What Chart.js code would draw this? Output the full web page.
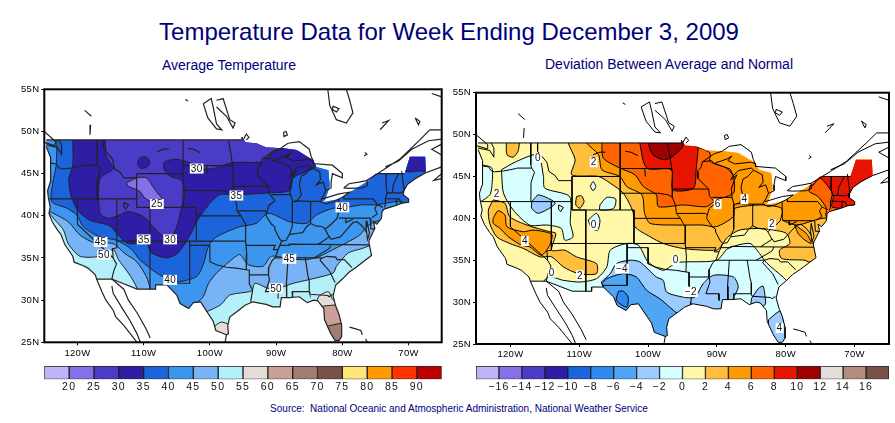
<!DOCTYPE html>
<html>
<head>
<meta charset="utf-8">
<title>Temperature Data</title>
<script src="https://cdn.jsdelivr.net/npm/chart.js@4"></script>
<style>
  body { margin: 0; background: #fff; font-family: "Liberation Sans", Arial, sans-serif; }
  #page { position: relative; width: 895px; height: 423px; overflow: hidden; }
  canvas { position: absolute; }
  .txt { position: absolute; color: #00007b; white-space: nowrap; transform: translateX(-50%); }
  #mapLeft, #barLeft { filter: blur(0.45px); }
</style>
</head>
<body>
<div id="page">
  <div class="txt" style="left:449px;top:18px;font-size:24px">Temperature Data for Week Ending December 3, 2009</div>
  <div class="txt" style="left:229px;top:57px;font-size:14px">Average Temperature</div>
  <div class="txt" style="left:669px;top:56px;font-size:14px">Deviation Between Average and Normal</div>
  <div class="txt" style="left:459px;top:403px;font-size:10px">Source:&nbsp; National Oceanic and Atmospheric Administration, National Weather Service</div>
  <canvas id="mapLeft" width="450" height="285" style="left:0;top:80px"></canvas>
  <canvas id="mapRight" width="445" height="285" style="left:450px;top:80px"></canvas>
  <canvas id="barLeft" width="450" height="36" style="left:0;top:360px"></canvas>
  <canvas id="barRight" width="445" height="36" style="left:450px;top:360px"></canvas>
</div>
<script>
// axis ticks
const lonTicks = [-120, -110, -100, -90, -80, -70];
const latTicks = [25, 30, 35, 40, 45, 50, 55];

// colour bars
const tempBarLabels = [20, 25, 30, 35, 40, 45, 50, 55, 60, 65, 70, 75, 80, 85, 90];
const tempBarColors = ['#BDB4FA', '#8570E8', '#4B3CC8', '#2D1EA5', '#1C64DC', '#3C96F0', '#78B4F5', '#B4F0FA',
  '#E6DCD7', '#C8A096', '#A07D70', '#785046', '#FFE678', '#FF9B00', '#FF3200', '#C00000'];
const devBarLabels = ['\u221216', '\u221214', '\u221212', '\u221210', '\u22128', '\u22126', '\u22124', '\u22122', '0', '2', '4', '6', '8', '10', '12', '14', '16'];
const devBarColors = ['#BDB4FA', '#8570E8', '#4B3CC8', '#2D1EA5', '#1C64DC', '#2E8AF0', '#50A5F5', '#9CCBFF', '#D8FFFF',
  '#FFF8A8', '#FFBE3C', '#FF9B00', '#FF6400', '#E61400', '#A00000', '#E6DCD7', '#B48C7D', '#785046'];

// lower 48 outline, [lon, lat]
const usMaskNorth = [[-124.7,49],[-95.15,49],[-95.15,49.35],[-94.6,48.7],[-93,48.6],[-91.5,48.1],[-88.9,48],[-86.9,47.8],[-84.4,46.6],[-83.9,45.8],[-82.1,45.4],[-81.9,43.5],[-82.6,41.9],[-83,41.6],[-80.4,42],[-78.4,43],[-76,44.2],[-75,45],[-70.6,45],[-69.8,47],[-67.5,47],[-67.4,45.4]];
const usCoastSouth = [[-67.4,45.1],[-69,44.4],[-70.2,43.7],[-70.7,43],[-70.8,42.5],[-70,42],[-70,41.6],[-71,41.5],[-72,41.2],[-73.7,40.8],[-74,40.5],[-74.1,39.7],[-74.8,39],[-75.3,39.3],[-75.1,38.5],[-75.9,37.2],[-76,36.9],[-75.6,35.3],[-76.6,34.7],[-77.9,33.9],[-79,33.3],[-80,32.5],[-81,31.8],[-81.4,30.5],[-81,29.3],[-80.5,28.3],[-80.1,27],[-80.1,25.7],[-80.5,25.2],[-81.1,25.2],[-81.8,26.1],[-82.7,27.7],[-82.8,29],[-83.7,29.9],[-84.3,30],[-85.3,29.7],[-86.5,30.4],[-88,30.3],[-89.2,30.3],[-89.4,29.2],[-90.5,29.2],[-91.5,29.5],[-93.5,29.8],[-94.7,29.4],[-95.5,28.9],[-97,28],[-97.3,27],[-97.2,26],[-97.5,25.9],[-99.1,26.4],[-99.5,27.5],[-100.5,28.7],[-101.4,29.8],[-102.5,29.7],[-103.2,29],[-104.5,29.6],[-105,30.6],[-106.5,31.8],[-108.2,31.8],[-108.2,31.3],[-111,31.3],[-114.8,32.5],[-117.1,32.5],[-117.3,33],[-118.4,33.8],[-119.2,34.1],[-120.5,34.5],[-120.7,35.2],[-121.9,36.6],[-122.5,37.8],[-123,38.3],[-123.8,39.3],[-124.3,40.3],[-124.1,41],[-124.4,42.2],[-124.5,43],[-124.1,44],[-124,46.2],[-124.1,46.9],[-124.7,48.2]];
const northBorder = [[-124.7,49],[-95.15,49],[-95.15,49.35]];

const stateLines = [
  [[-124,46.25],[-123.2,46.15],[-122.8,45.7],[-122.3,45.55],[-121,45.65],[-119.3,45.93],[-119,46],[-116.92,46]],
  [[-117.04,49],[-117.04,46.4],[-116.92,46],[-116.5,45.5],[-117,44.3],[-117.03,42]],
  [[-116.05,49],[-116.05,48],[-114.7,46.7],[-114.4,45.6],[-113.5,45.1],[-113,44.5],[-111.05,44.5]],
  [[-111.05,45],[-111.05,41],[-109.05,41],[-109.05,31.3]],
  [[-124.2,42],[-111.05,42]],
  [[-120,42],[-120,39],[-114.6,35]],
  [[-114.05,42],[-114.05,36.2],[-114.7,36.1],[-114.6,35],[-114.1,34.3],[-114.5,33.5],[-114.8,32.5]],
  [[-114.05,37],[-94.6,37]],
  [[-103.05,37],[-103.05,32],[-106.6,32]],
  [[-103.05,36.5],[-100,36.5],[-100,34.56],[-99,34.2],[-97.5,33.9],[-96,33.8],[-94.5,33.6],[-94.05,33.55],[-94.05,31.9],[-93.55,31.2],[-93.8,30],[-93.8,29.7]],
  [[-94.6,37],[-94.43,35.4],[-94.5,33.6]],
  [[-111.05,45],[-104.05,45]],
  [[-104.05,49],[-104.05,41]],
  [[-104.05,45.95],[-96.56,45.95]],
  [[-104.05,43],[-98.5,43],[-97,42.8],[-96.5,42.5]],
  [[-111.05,41],[-102.05,41],[-102.05,37]],
  [[-102.05,40],[-95.3,40]],
  [[-97.2,49],[-96.85,47.5],[-96.56,45.95],[-96.45,45.3],[-96.45,43.5],[-96.5,42.5],[-96,41.5],[-95.9,40.6],[-95.3,40],[-94.9,39.4],[-94.6,39.1],[-94.6,37]],
  [[-96.45,43.5],[-91.2,43.5]],
  [[-95.77,40.58],[-91.7,40.6],[-91.4,40.4]],
  [[-92.1,46.75],[-92.3,46.1],[-92.85,45.6],[-92.75,44.75],[-91.2,43.5],[-91.1,42.7],[-90.2,41.8],[-91.1,41.2],[-91.4,40.4],[-91.5,40],[-90.7,39],[-90.2,38.7],[-90.2,38.4],[-89.5,37.3],[-89.15,37],[-89.7,36],[-90.1,35.1],[-90.6,34.7],[-91.1,33.9],[-91.15,33],[-91,32.4],[-91.6,31],[-89.7,31],[-89.7,30.2]],
  [[-90.65,42.5],[-87.8,42.5]],
  [[-87.53,41.7],[-87.53,39.3],[-87.6,38.7],[-88,37.8]],
  [[-89.15,37],[-88.5,37.1],[-88,37.8],[-87,37.9],[-86,38],[-85.4,38.7],[-84.8,39.1],[-84,38.8],[-83,38.7],[-82.6,38.4],[-81.7,39],[-80.8,39.7],[-80.52,40.6],[-80.52,42]],
  [[-84.8,39.1],[-84.8,41.7]],
  [[-87.2,41.76],[-84.8,41.7],[-83.45,41.7]],
  [[-79.76,42.25],[-79.76,42],[-75.35,42],[-74.7,41.35],[-73.9,41]],
  [[-74.7,41.35],[-75.1,40.9],[-74.75,40.2],[-75.5,39.8]],
  [[-80.52,39.72],[-75.79,39.72],[-75.7,38.46],[-75.05,38.45]],
  [[-81.97,37.54],[-81.7,37.2],[-80.3,37.5],[-79.3,38.4],[-78.4,39.2],[-77.8,39.3],[-77,38.8],[-76.3,38]],
  [[-79.48,39.72],[-79.48,39.2],[-78.4,39.6]],
  [[-82.6,38.4],[-82,37.5],[-83.67,36.6]],
  [[-89.4,36.5],[-88,36.5],[-88,36.65],[-83.67,36.6],[-75.9,36.55]],
  [[-90.1,35],[-84.3,35],[-83.1,35]],
  [[-84.3,35],[-82,36.1],[-81.7,36.6]],
  [[-94.6,36.5],[-90.15,36.5],[-90.4,36],[-89.7,36]],
  [[-83.1,35],[-82.3,35.2],[-81,35.1],[-80.8,34.8],[-79.7,34.8],[-78.55,33.85]],
  [[-83.1,35],[-83.35,34.7],[-81.9,33.4],[-81.1,32.1]],
  [[-85,31],[-84.9,30.7],[-82.2,30.55],[-82,30.4],[-81.5,30.7]],
  [[-85.6,35],[-85.2,32.9],[-85,32.3],[-85,31]],
  [[-87.6,31],[-85,31]],
  [[-87.6,31],[-87.5,30.3]],
  [[-88.2,35],[-88.45,31.9],[-88.4,30.3]],
  [[-94.05,33],[-91.15,33]],
  [[-73.35,45],[-73.4,43.6],[-73.25,42.75],[-73.5,42.05],[-73.5,41.3],[-73.65,41]],
  [[-71.5,45],[-72.3,43.7],[-72.45,42.73]],
  [[-73.5,42.05],[-71.4,42],[-71.1,41.5]],
  [[-71.8,42],[-71.85,41.3]],
  [[-73.25,42.75],[-71.3,42.7],[-70.8,42.87]],
  [[-71.05,45.3],[-70.7,43.1]],
  [[-74.7,45],[-70.6,45]],
  [[-90.4,46.55],[-88.1,45.9],[-87.6,45.1]]
];

const waterLines = [
  // great lakes
  [[-87.5,41.65],[-87.8,42.5],[-87.9,43.5],[-87.5,44.5],[-87.1,45.2],[-88,44.6],[-87.6,45.1],[-86.9,45.7],[-85,46],[-84.7,45.8]],
  [[-84.7,45.75],[-85.5,45],[-86.2,44.7],[-86.5,43.7],[-86.2,42.5],[-86.8,41.8],[-87.5,41.65]],
  [[-84.7,45.75],[-83.4,45.2],[-83.3,44.3],[-83.9,43.7],[-82.9,44],[-82.5,43],[-82.9,42.3],[-83.4,41.7],[-82.5,41.4],[-81.5,41.6],[-80,42.2],[-78.9,42.8],[-80.5,42.6],[-83,42]],
  [[-92.1,46.75],[-90.8,46.9],[-90.4,46.55],[-88.5,47.1],[-87.8,47.45],[-88.4,46.9],[-87.4,46.5],[-85,46.7],[-84.4,46.5]],
  [[-92.1,46.75],[-90.4,47.7],[-89.3,48],[-88.2,48.6],[-86.5,48.8],[-85,47.9],[-84.7,47],[-84.4,46.5],[-84.4,46.2],[-81.5,46],[-80,45],[-80,44.5],[-81.5,45],[-81.7,44],[-81.7,43.3],[-82.4,43]],
  [[-79.8,43.3],[-79,43.25],[-77,43.3],[-76.2,43.6],[-76.3,44.2],[-77.5,44],[-79,43.8],[-79.8,43.3]],
  [[-76.3,44.2],[-74.7,45],[-73.5,45.6],[-71.2,46.8],[-68.3,49],[-66.8,50.2],[-65,50.2]],
  [[-73.5,45.8],[-71.5,46.5],[-69.5,47.9],[-67,48.9],[-65,49.1]],
  [[-65,48.5],[-66.5,47.9],[-65,47.2]],
  [[-65,44.4],[-66.2,44.2],[-65,45]],
  [[-67.4,45.1],[-65,45.8]],
  [[-113,41.6],[-112.3,41.3],[-112.7,40.8],[-113,41.1],[-113,41.6]],
  [[-76.3,39.4],[-76.4,38.4],[-76.2,37.2],[-75.9,37.9],[-76.3,39.4]],
  // reservoirs on the missouri
  [[-108,47.6],[-107,47.9],[-106.2,47.9]],
  [[-103.3,48],[-102.5,47.9],[-101.5,47.5]],
  [[-100.5,46],[-100.4,45]],
  // canada
  [[-125,48.7],[-123.4,48.3],[-123.3,48.8],[-125,50]],
  [[-124.7,48.4],[-123,48.1],[-122.4,47.3],[-122.4,48.4],[-122.8,49]],
  [[-99,53.7],[-98,53.9],[-97,51.4],[-96.2,51],[-96.5,50.4],[-97.5,51.8],[-99,52.9]],
  [[-101,53.3],[-99.8,53.9],[-99.5,52.9],[-99,50.9],[-98.2,50.2],[-99,50.3],[-100.3,51.6],[-101,53.3]],
  [[-88.9,49.9],[-88.5,50],[-88.3,49.6],[-88.8,49.4],[-88.9,49.9]],
  [[-94.9,49.1],[-94.5,49.7],[-94.1,49.3],[-94.5,49]],
  [[-103.7,53.8],[-103.3,53.6]],
  [[-118.9,52.5],[-117.9,51.8]],
  [[-118,50.8],[-118.1,49.6]],
  [[-82.2,55],[-81.9,53.1],[-80.9,51.4],[-79.4,51],[-78.4,52.2],[-78.9,53.7],[-79.4,55]],
  [[-81.4,53],[-80.5,52.7],[-80.9,52.3],[-81.5,52.6],[-81.4,53]],
  [[-66.5,54.5],[-65,54.1]],
  [[-74,51],[-73,51.3],[-74.3,50.2]],
  [[-69,51.6],[-68.3,51.2],[-68.5,50.8],[-69,51.6]],
  [[-76.6,47.5],[-76.3,47.3],[-76.7,47.1]],
  // mexico and caribbean
  [[-117.1,32.5],[-116.3,31],[-115.7,30],[-114.6,28.8],[-114.2,28],[-113,27],[-112,26],[-111,25]],
  [[-114.8,31.7],[-114.6,30.8],[-113.2,29],[-112,27.5],[-111,26],[-110.5,25]],
  [[-114.8,32.5],[-113,31.3],[-112.3,30],[-111,28.5],[-109.7,26.7],[-109,25.5]],
  [[-97.5,25.9],[-97.7,25]],
  [[-78.9,26.8],[-78,26.6],[-77.2,26.4],[-77,25.9]],
  [[-76.5,25.4],[-76.2,25]]
];

// average temperature contours, each band drawn over the warmer one
const temp45to50 = [[-126,40.5],[-124.6,40.5],[-123.4,39.5],[-122.1,38.3],[-121.4,36.7],[-119.6,35.2],[-116.6,35.2],[-114.6,36],[-113.8,34.8],[-112.3,33.2],[-111,31.4],[-111,30],[-103,28],[-100,28.8],[-98.3,29.5],[-97,30.6],[-93.7,31.1],[-93.2,32],[-91.2,31.4],[-89.7,31.4],[-87.4,32],[-85.2,32.4],[-81.4,33.2],[-80.9,34],[-79.1,35.6],[-77.1,36.1],[-75.6,36.5],[-74,36.5],[-60,36.5],[-60,52],[-127,52],[-127,40.5]];
const temp40to45 = [[-126,41],[-124.2,40.5],[-121.4,39.3],[-119.6,37.7],[-117.4,36.8],[-114.6,36.7],[-112.8,35.5],[-111.1,34.6],[-109.6,32.8],[-109,31.3],[-109,30],[-102.4,28.5],[-102,29.6],[-101,30.4],[-100.2,32],[-99,33.2],[-97,34.6],[-95.5,35.4],[-94.2,34.2],[-92,34],[-90.7,35.2],[-88,34.9],[-85.4,34.8],[-83.4,35.2],[-80.9,36.2],[-79.4,36.8],[-77.4,37.7],[-76.3,38.7],[-75.1,39.3],[-73,39.5],[-60,39.5],[-60,52],[-127,52],[-127,41]];
const temp35to40 = [[-123.1,52],[-123.1,49],[-123.2,46],[-123.7,44],[-123.9,41.7],[-121.6,40.9],[-120.1,40.1],[-119.1,38.7],[-116.6,37.5],[-114.1,37.1],[-111.8,36],[-110.6,34.8],[-108,33.2],[-106,32.4],[-104.5,32.2],[-102,32.8],[-101,34.2],[-100.2,36.4],[-99,37.5],[-95.5,38.7],[-93,39.1],[-91.2,40.3],[-88,39.3],[-85.4,39.1],[-83.9,40.1],[-81.4,40.9],[-80,40.9],[-77.1,41.3],[-74.8,41.3],[-71.8,41.7],[-70,41.5],[-60,41.5],[-60,52]];
const temp30to35 = [[-120.7,52],[-120.7,49],[-120.7,46],[-121.3,44.4],[-121,42.5],[-120,40.7],[-118.2,39.5],[-115.1,38.8],[-113.6,37.5],[-112.3,36.7],[-109.6,36.7],[-108.8,35.6],[-106.5,35],[-104.8,35.6],[-103,37.7],[-102,39.3],[-100.2,41.3],[-98.5,42.5],[-96,42.5],[-91.5,42.7],[-87.9,43],[-87.4,44.5],[-84.2,45.7],[-84,46.5],[-84,52]];
const tempMaine = [[-70,47.2],[-67,47.2],[-67,45.4],[-68.5,45.3],[-70.5,45.3]];
const temp25to30 = [[-115.8,52],[-115.8,49],[-115.6,47],[-114.6,45.6],[-116.6,44.4],[-116.6,40.3],[-115.3,39.7],[-113.6,40.1],[-112.3,40.5],[-110,39.9],[-108.8,38.9],[-107,37.5],[-106,37.3],[-105,38.7],[-104.3,40.9],[-103.8,42.7],[-104.3,44.2],[-106,44.7],[-107,45.6],[-106.8,46.4],[-105,46.7],[-102.8,46.2],[-101.8,45.6],[-99.5,45.6],[-96.7,46.3],[-92,46.4],[-91,47.2],[-89,48],[-85,49],[-85,52]];
const tempCold30 = [[-110.9,46.4],[-110.5,46.9],[-109.7,47],[-109.1,46.5],[-109.3,45.9],[-110.2,45.6],[-110.8,45.9]];
const temp20to25 = [[-112.6,43.9],[-111,44.5],[-109.6,44.5],[-108.3,43.1],[-107,41.7],[-107.8,41.3],[-109.8,42.1],[-110.6,42.9],[-112.3,43.5]];
const temp55to60Fl = [[-84,29],[-83.6,30.4],[-82.1,31],[-81.4,30],[-80,30],[-79,29],[-79,24],[-84,24]];
const temp60to65Fl = [[-84,29.2],[-80,29.2],[-79,24],[-84,24]];
const temp65to70Fl = [[-84,26.6],[-79,27.2],[-79,24],[-84,24]];
const temp55to60Tx = [[-99.6,26.7],[-98.3,27.4],[-97,27.1],[-95,27],[-95,24],[-100,24]];

// deviation from normal contours
const dev2to4East = [[-111.6,50],[-111.6,49],[-110.6,47],[-111.1,45.2],[-107.2,45],[-105.5,44.2],[-103.6,43],[-102.2,40.8],[-101.9,39],[-99.7,37.8],[-97.8,37],[-94.9,36.4],[-90,36.2],[-89.3,36.8],[-88.4,37.8],[-86.7,38.6],[-83.8,38.8],[-81.8,38.6],[-79.9,38.2],[-79.4,37],[-80.9,36.2],[-80.6,35.2],[-77.2,35],[-76.7,34.8],[-74,34.8],[-60,34.8],[-60,52],[-111.6,52]];
const dev2to4West = [[-122.5,42.2],[-120.8,41.8],[-120.1,40.2],[-117.6,39.2],[-114.3,38.4],[-113.4,38.2],[-114,36.2],[-112.1,36.2],[-110.4,35.4],[-107.5,34.6],[-107.5,33.4],[-110.1,33.4],[-112.3,34.2],[-114,35.4],[-115.7,35.4],[-118.1,36.4],[-120.1,37],[-122,37.8],[-123,39.4],[-123.2,41]];
const dev2to4Wa = [[-120.6,50],[-120.6,49],[-120.5,47.6],[-119.6,47.3],[-118.9,48],[-118.7,49],[-118.7,50]];
const dev2to4Wy = [[-110.4,42.6],[-109.7,42.7],[-109.3,42],[-109.9,41.2],[-110.5,41.6]];
const dev4to6East = [[-108.9,50],[-108.9,49],[-107.2,47.6],[-106.7,45.8],[-104.1,45],[-103.1,43.8],[-100.9,42.8],[-100.5,40.6],[-99.7,39.4],[-95.9,39.2],[-92,39.2],[-90.1,39],[-87.6,40.2],[-87.4,41.2],[-83.5,41.6],[-80.6,41.2],[-80.4,39.8],[-78.4,39.2],[-76.5,39.6],[-74.8,40],[-73,40],[-60,40],[-60,52],[-108.9,52]];
const dev4to6West = [[-122.5,40],[-121.8,40.9],[-120.8,40.4],[-120.5,39],[-118.1,38.4],[-116.7,38.6],[-114,38.1],[-114.3,36.8],[-115.5,35.6],[-117.2,36.6],[-118.4,36.8],[-120.3,37.8],[-121.5,38.8],[-122.5,39.4]];
const dev4to6Va = [[-78.7,39.2],[-77,38.2],[-76.3,37],[-77.2,37.4],[-78.2,38.2]];
const dev6to8Mid = [[-106.7,50],[-106.7,49],[-106.5,47.2],[-104.1,46],[-101.9,45.2],[-100.7,43.8],[-98.8,42.8],[-98.5,41.4],[-94.9,41.6],[-91.5,41.4],[-90.1,42.2],[-87.6,43],[-87.6,45],[-88.6,46],[-91,46.8],[-91,47.8],[-92.5,48.4],[-94.9,48.6],[-94.9,50]];
const dev6to8Ne = [[-76.5,50],[-76.5,43.8],[-76.6,43.2],[-75.3,42.6],[-74.1,41.2],[-74.1,40.2],[-70,40],[-60,40],[-60,50]];
const dev8to10Ne = [[-76.3,50],[-76.3,43.8],[-75,44.8],[-73.1,42.8],[-73.3,41.4],[-71.4,41.2],[-70,41.5],[-60,41.5],[-60,50]];
const dev8to10Mid = [[-101.2,50],[-101.2,49],[-100.2,46],[-96.6,45.8],[-96.4,43.4],[-93.4,43.6],[-93,46],[-92.7,48.6],[-92.7,50]];
const dev10to12 = [[-100,50],[-100,49],[-99.3,47.6],[-97.8,47],[-96.8,47.2],[-95.1,48.4],[-94.9,49],[-94.9,50]];
const devM2to0South = [[-116,31.5],[-114.5,33],[-112.3,32.6],[-109.9,32.4],[-107.5,32.8],[-106,34.2],[-105.5,36.2],[-103.1,37],[-101.4,36.8],[-100,34.8],[-97.8,33.8],[-95.9,34.7],[-94.4,34.8],[-90,35],[-88.4,36.4],[-85.2,37],[-83.8,35.8],[-82.8,34.7],[-80.4,33],[-79.9,32.6],[-78,32],[-78,23],[-116,23]];
const devM2to0West = [[-121.3,45.8],[-119.1,46.8],[-116,47.6],[-115.2,45],[-115,43.6],[-111.4,42.6],[-111.3,39.4],[-110.9,37.8],[-112.1,37.4],[-112.6,38.8],[-114.7,39.2],[-117.2,39.2],[-119.6,41],[-121,43]];
const devM2to0Coast = [[-124.2,46.4],[-122.7,46],[-122.7,43.8],[-123,42.8],[-124.4,42],[-126,42],[-126,46.4]];
const devM2to0Wy = [[-107,41.6],[-106,42.5],[-104.7,42.3],[-105,41.2],[-107,41]];
const devM2to0Wy2 = [[-108.4,43.8],[-108,44.4],[-107.6,43.8],[-108,43.3]];
const devM2to0Co = [[-108.7,39.8],[-107.5,40.6],[-107,39.8],[-107.3,38.6],[-108.2,38.8]];
const devM4to2Nv = [[-116.9,42],[-115.9,42.8],[-113.5,41.8],[-115.9,40.6],[-116.9,41.2]];
const devM4to2South = [[-106.8,32.4],[-105.5,33.4],[-104.6,34.6],[-102.6,35],[-101.2,34.8],[-98.8,33],[-97.8,32.6],[-97.3,31.2],[-94.9,30.6],[-93.2,30.6],[-92,32.2],[-90.5,33.2],[-87.6,33],[-86.9,31.8],[-87.6,30.4],[-87.6,28],[-97,24],[-99,26],[-101,28],[-105.5,30.2]];
const devM4to2Ga = [[-85,30.4],[-84,31.6],[-83.3,31.9],[-83,30.6],[-83,29.7],[-85,29]];
const devM4to2Fl = [[-82.5,27.9],[-80.8,28.9],[-80.1,27.1],[-79,25],[-82.5,24.5]];
const devM6to4 = [[-106.7,32.2],[-106,32.8],[-103.6,33.4],[-101.7,33],[-100.2,31.4],[-98.3,30.4],[-96.3,29],[-95,28],[-97,24],[-99,26],[-102,28],[-105.5,30.2]];
const devM8to6 = [[-104.3,31.3],[-103.6,31.3],[-102.9,30.6],[-103.1,29.4],[-104.6,30.2]];

// contour labels [lon, lat, text]
const tempLabels = [[-102,45.6,'30'],[-96,42.4,'35'],[-108,41.4,'25'],[-80,41,'40'],[-110,37.2,'35'],[-106,37.2,'30'],[-116.5,36.9,'45'],[-116,35.4,'50'],[-88,34.9,'45'],[-106,32.4,'40'],[-90,31.4,'50']];
const devLabels = [[-116,47.2,'0'],[-107.9,46.7,'2'],[-122,42.9,'2'],[-89.9,41.7,'6'],[-86,42.3,'4'],[-82,39.3,'2'],[-107.9,39.2,'0'],[-117.9,37.3,'4'],[-96,35,'0'],[-103.8,34,'\u22124'],[-114,33.5,'0'],[-109.9,33.2,'2'],[-93.8,31.2,'\u22122'],[-80.9,26.9,'4']];

const toXY = ([x, y]) => ({ x, y });
const usMask = [...usMaskNorth, ...usCoastSouth];

// filled contour region, clipped to the us outline by the plugin below
function band(points, color, lineColor, noLine) {
  const closed = [...points, points[0]];
  return {
    data: closed.map(toXY), showLine: true, pointRadius: 0, tension: 0.25, capBezierPoints: false,
    borderColor: lineColor, borderWidth: noLine ? 0 : 1, backgroundColor: color, isBand: true
  };
}
function lines(list, lineColor, width) {
  return {
    data: list.flatMap(l => [...l.map(toXY), { x: NaN, y: NaN }]), showLine: true, pointRadius: 0, tension: 0,
    borderColor: lineColor, borderWidth: width, backgroundColor: 'transparent', spanGaps: false
  };
}

const mapPlugin = {
  id: 'mapPlugin',
  beforeDraw(chart) { chart.ctx.letterSpacing = chart.options.plugins.mapPlugin.spacing || '0px'; },
  beforeDatasetDraw(chart, args) {
    const ds = chart.data.datasets[args.index];
    if (!ds.isBand) return;
    const ctx = chart.ctx, xs = chart.scales.x, ys = chart.scales.y;
    ctx.save();
    ctx.beginPath();
    usMask.forEach(([lon, lat], i) => {
      const px = xs.getPixelForValue(lon), py = ys.getPixelForValue(lat);
      i ? ctx.lineTo(px, py) : ctx.moveTo(px, py);
    });
    ctx.closePath();
    ctx.clip();
    ctx.beginPath();
    args.meta.dataset.path(ctx);
    ctx.fillStyle = ds.backgroundColor;
    ctx.fill();
  },
  afterDatasetDraw(chart, args) {
    if (chart.data.datasets[args.index].isBand) chart.ctx.restore();
  },
  afterDatasetsDraw(chart, args, opts) {
    const ctx = chart.ctx, xs = chart.scales.x, ys = chart.scales.y;
    ctx.save();
    ctx.font = '10px "Liberation Sans"';
    ctx.textAlign = 'center';
    ctx.textBaseline = 'middle';
    opts.labels.forEach(([lon, lat, text]) => {
      const px = xs.getPixelForValue(lon), py = ys.getPixelForValue(lat);
      const w = ctx.measureText(text).width + 2;
      ctx.fillStyle = '#fff';
      ctx.fillRect(px - w / 2, py - 5, w, 10);
      ctx.fillStyle = '#111';
      ctx.fillText(text, px, py + 0.5);
    });
    ctx.restore();
  },
  afterDraw(chart) {
    const ctx = chart.ctx, a = chart.chartArea;
    ctx.save();
    ctx.strokeStyle = '#000';
    ctx.lineWidth = 2;
    ctx.strokeRect(a.left, a.top, a.right - a.left, a.bottom - a.top);
    ctx.restore();
  }
};

function drawMap(id, layers, labels, lineColor, lineWidth, pad) {
  new Chart(document.getElementById(id), {
    type: 'scatter',
    data: { datasets: [...layers, lines(stateLines, lineColor, lineWidth), lines(waterLines, lineColor, lineWidth), lines([usCoastSouth, northBorder], lineColor, lineWidth)].reverse() },
    plugins: [mapPlugin],
    options: {
      responsive: false, animation: false, devicePixelRatio: 1,
      layout: { padding: { top: pad.top, right: pad.right, left: 0, bottom: 0 } },
      plugins: { legend: { display: false }, tooltip: { enabled: false }, mapPlugin: { labels, spacing: '0.3px' } },
      scales: {
        x: {
          type: 'linear', min: -125, max: -65,
          afterBuildTicks: s => { s.ticks = lonTicks.map(value => ({ value })); },
          afterFit: s => { s.height = pad.bottom; },
          grid: { drawOnChartArea: false, tickLength: 3, color: '#000' },
          border: { display: false },
          ticks: { autoSkip: false, maxRotation: 0, color: '#000', padding: 2, font: { size: 9.5, family: '"Liberation Sans"' }, callback: v => -v + 'W' }
        },
        y: {
          type: 'linear', min: 25, max: 55,
          afterBuildTicks: s => { s.ticks = latTicks.map(value => ({ value })); },
          afterFit: s => { s.width = pad.left; },
          grid: { drawOnChartArea: false, tickLength: 3, color: '#000' },
          border: { display: false },
          ticks: { autoSkip: false, color: '#000', padding: 2, font: { size: 9.5, family: '"Liberation Sans"' }, callback: v => v + 'N' }
        }
      }
    }
  });
}

function drawBar(id, colors, labels, pad) {
  new Chart(document.getElementById(id), {
    type: 'bar',
    data: {
      labels: [''],
      datasets: colors.map(c => ({ data: [1], backgroundColor: c, borderColor: '#222', borderWidth: 1, borderSkipped: false, categoryPercentage: 1, barPercentage: 1 }))
    },
    plugins: [{ id: 'spacing', beforeDraw(chart) { chart.ctx.letterSpacing = '1.2px'; } }],
    options: {
      indexAxis: 'y', responsive: false, animation: false, devicePixelRatio: 1,
      layout: { padding: { left: pad.left, right: pad.right, top: 6, bottom: 0 } },
      plugins: { legend: { display: false }, tooltip: { enabled: false } },
      scales: {
        y: { display: false, stacked: true },
        x: {
          stacked: true, min: 0, max: colors.length,
          afterBuildTicks: s => { s.ticks = labels.map((l, i) => ({ value: i + 1 })); },
          afterFit: s => { s.height = 16.7; },
          grid: { display: false, drawTicks: false }, border: { display: false },
          ticks: { autoSkip: false, maxRotation: 0, color: '#111', padding: 2, font: { size: 10.5, family: '"Liberation Sans"' }, callback: v => labels[v - 1] }
        }
      }
    }
  });
}

const tempLayers = [
  band(usMask, tempBarColors[7], '#222', true),
  band(temp45to50, tempBarColors[6], '#222'),
  band(temp40to45, tempBarColors[5], '#222'),
  band(temp35to40, tempBarColors[4], '#222'),
  band(temp30to35, tempBarColors[3], '#222'),
  band(tempMaine, tempBarColors[3], '#222'),
  band(temp25to30, tempBarColors[2], '#222'),
  band(tempCold30, tempBarColors[3], '#222'),
  band(temp20to25, tempBarColors[1], '#222'),
  band(temp55to60Fl, tempBarColors[8], '#222'),
  band(temp60to65Fl, tempBarColors[9], '#222'),
  band(temp65to70Fl, tempBarColors[10], '#222'),
  band(temp55to60Tx, tempBarColors[8], '#222')
];
const devLayers = [
  band(usMask, devBarColors[9], '#000', true),
  band(dev2to4East, devBarColors[10], '#000'),
  band(dev2to4West, devBarColors[10], '#000'),
  band(dev2to4Wa, devBarColors[10], '#000'),
  band(dev2to4Wy, devBarColors[10], '#000'),
  band(dev4to6East, devBarColors[11], '#000'),
  band(dev4to6West, devBarColors[11], '#000'),
  band(dev4to6Va, devBarColors[11], '#000'),
  band(dev6to8Mid, devBarColors[12], '#000'),
  band(dev6to8Ne, devBarColors[12], '#000'),
  band(dev8to10Mid, devBarColors[13], '#000'),
  band(dev8to10Ne, devBarColors[13], '#000'),
  band(dev10to12, devBarColors[14], '#000'),
  band(devM2to0South, devBarColors[8], '#000'),
  band(devM2to0West, devBarColors[8], '#000'),
  band(devM2to0Coast, devBarColors[8], '#000'),
  band(devM2to0Wy, devBarColors[8], '#000'),
  band(devM2to0Wy2, devBarColors[8], '#000'),
  band(devM2to0Co, devBarColors[8], '#000'),
  band(devM4to2Nv, devBarColors[7], '#000'),
  band(devM4to2South, devBarColors[7], '#000'),
  band(devM4to2Ga, devBarColors[7], '#000'),
  band(devM4to2Fl, devBarColors[7], '#000'),
  band(devM6to4, devBarColors[6], '#000'),
  band(devM8to6, devBarColors[5], '#000')
];

drawMap('mapLeft', tempLayers, tempLabels, '#222', 1.2, { left: 44.3, right: 8.3, top: 9.3, bottom: 22.7 });
drawMap('mapRight', devLayers, devLabels, '#000', 1, { left: 26, right: 6, top: 12.7, bottom: 21 });
drawBar('barLeft', tempBarColors, tempBarLabels, { left: 44.3, right: 8.3 });
drawBar('barRight', devBarColors, devBarLabels, { left: 26, right: 6 });
</script>
</body>
</html>
